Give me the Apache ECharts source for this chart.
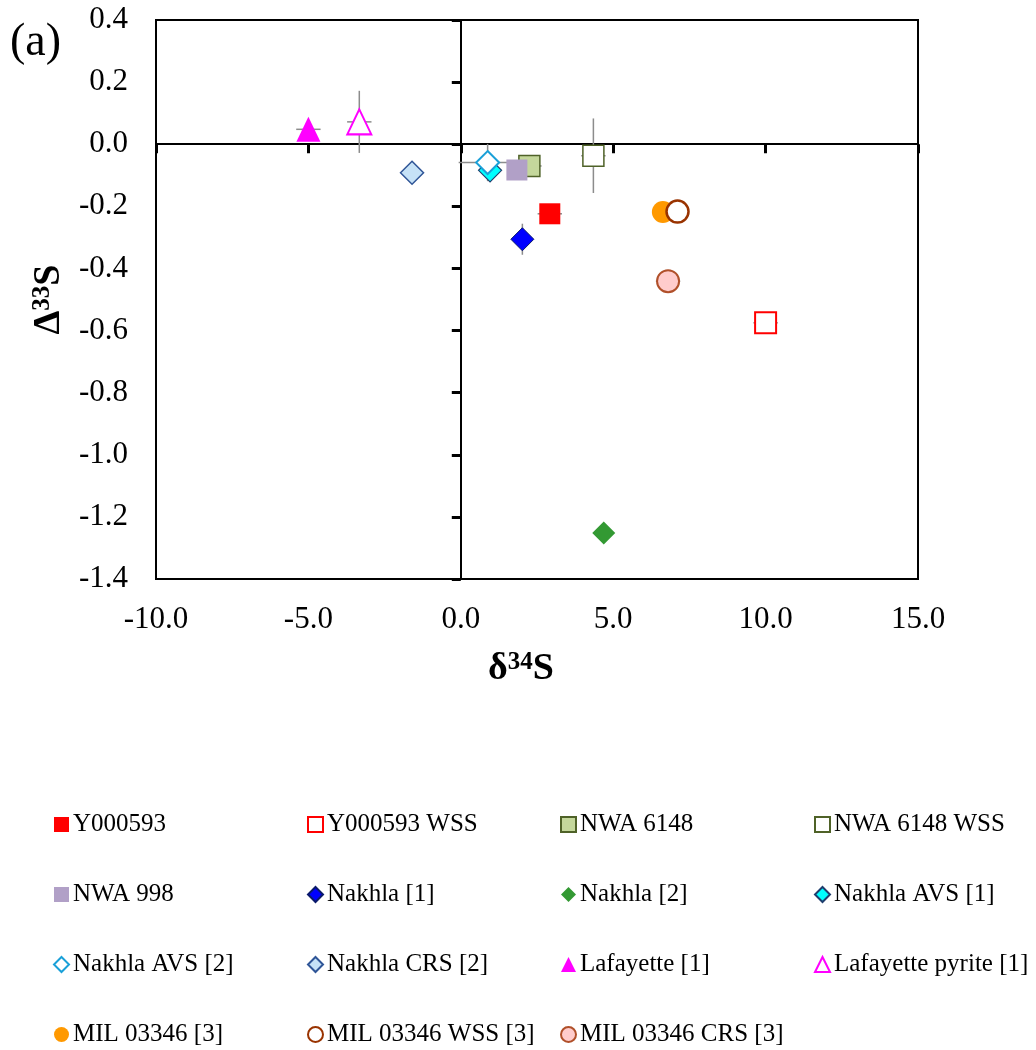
<!DOCTYPE html>
<html>
<head>
<meta charset="utf-8">
<script src="https://cdn.jsdelivr.net/npm/echarts@6/dist/echarts.min.js"></script>
<style>
html,body{margin:0;padding:0;background:#fff;}
#chart{width:1036px;height:1050px;}
</style>
</head>
<body>
<div id="chart"></div>
<script>
// ---- data ----
const seriesNames = ['Y000593','Y000593 WSS','NWA 6148','NWA 6148 WSS','NWA 998','Nakhla [1]','Nakhla [2]','Nakhla AVS [1]','Nakhla AVS [2]','Nakhla CRS [2]','Lafayette [1]','Lafayette pyrite [1]','MIL 03346 [3]','MIL 03346 WSS [3]','MIL 03346 CRS [3]'];
const d34S    = [2.92, 10.0, 2.25, 4.35, 1.84, 2.02, 4.69, 0.96, 0.88, -1.6, -5.0, -3.33, 6.63, 7.11, 6.80];
const D33S    = [-0.224, -0.575, -0.070, -0.037, -0.083, -0.306, -1.252, -0.084, -0.059, -0.092, 0.048, 0.072, -0.218, -0.217, -0.441];
const d34SErr = [0.4, 0.4, 0.4, 0.4, 0, 0, 0, 0, 0.95, 0, 0.4, 0.4, 0, 0, 0.4];
const D33SErr = [0, 0, 0, 0.12, 0, 0.05, 0, 0, 0.06, 0, 0, 0.1, 0, 0, 0];
const xTicks = {min: -10, max: 15, interval: 5};
const yTicks = {min: -1.4, max: 0.4, interval: 0.2};

// ---- styles (separate from data) ----
const styles = [
  {symbol:'rect', size:21, color:'#FF0000', border:'#FF0000', bw:0},
  {symbol:'rect', size:21, color:'#FFFFFF', border:'#FF0000', bw:2},
  {symbol:'rect', size:21, color:'#C4D79B', border:'#4F6228', bw:1.5},
  {symbol:'rect', size:21, color:'#FFFFFF', border:'#4F6228', bw:1.5},
  {symbol:'rect', size:21, color:'#B1A0C7', border:'#B1A0C7', bw:0},
  {symbol:'diamond', size:23, color:'#0000FF', border:'#0A1A6A', bw:1},
  {symbol:'diamond', size:23, color:'#339933', border:'#339933', bw:0},
  {symbol:'diamond', size:23, color:'#00FFFF', border:'#1F3D6D', bw:1.2},
  {symbol:'diamond', size:23, color:'#FFFFFF', border:'#1AA0D8', bw:2},
  {symbol:'diamond', size:23, color:'#C6E2F7', border:'#2F5597', bw:1.5},
  {symbol:'triangle', size:[24,25], color:'#FF00FF', border:'#FF00FF', bw:0},
  {symbol:'triangle', size:[24,25], color:'#FFFFFF', border:'#FF00FF', bw:2},
  {symbol:'circle', size:22, color:'#FF9900', border:'#FF9900', bw:0},
  {symbol:'circle', size:22, color:'#FFFFFF', border:'#993300', bw:2.5},
  {symbol:'circle', size:22, color:'#FFCCCC', border:'#B0502A', bw:2}
];

const FONT = 'Liberation Serif';
const chart = echarts.init(document.getElementById('chart'), null, {renderer:'canvas'});

const scatterSeries = seriesNames.map((n, i) => ({
  type: 'scatter',
  name: n,
  xAxisIndex: 0, yAxisIndex: 0,
  symbol: styles[i].symbol,
  symbolSize: styles[i].size,
  z: 3,
  itemStyle: {color: styles[i].color, borderColor: styles[i].border, borderWidth: styles[i].bw, opacity: 1},
  emphasis: {disabled: true},
  data: [[d34S[i], D33S[i]]]
}));

const errSeries = {
  type: 'custom',
  name: 'errors',
  xAxisIndex: 0, yAxisIndex: 0,
  z: 2,
  silent: true,
  data: d34S.map((x, i) => [x, D33S[i], d34SErr[i], D33SErr[i]]),
  renderItem: function (params, api) {
    const x = api.value(0), y = api.value(1), ex = api.value(2), ey = api.value(3);
    const children = [];
    const st = {stroke: '#8C8C8C', lineWidth: 1.5};
    if (ex > 0) {
      const a = api.coord([x - ex, y]), b = api.coord([x + ex, y]);
      children.push({type:'line', shape:{x1:a[0], y1:a[1], x2:b[0], y2:b[1]}, style: st});
    }
    if (ey > 0) {
      const a = api.coord([x, y - ey]), b = api.coord([x, y + ey]);
      children.push({type:'line', shape:{x1:a[0], y1:a[1], x2:b[0], y2:b[1]}, style: st});
    }
    return {type:'group', children: children};
  }
};

const cols = [[0,4,8,12],[1,5,9,13],[2,6,10,14],[3,7,11]];
const colLeft = [53, 307, 560, 814];
const legends = cols.map((c, k) => ({
  orient: 'vertical',
  left: colLeft[k],
  top: 812,
  padding: 0,
  itemWidth: 15,
  itemHeight: 15,
  itemGap: 45,
  selectedMode: false,
  textStyle: {fontFamily: FONT, fontSize: 25, color: '#000', padding: [0,0,0,-1]},
  data: c.map(i => seriesNames[i])
}));

const option = {
  animation: false,
  backgroundColor: '#fff',
  textStyle: {fontFamily: FONT},
  grid: {left: 156, top: 20, width: 762, height: 559, show: true, borderColor: '#000', borderWidth: 2, backgroundColor: 'transparent'},
  graphic: [{type:'text', left: 10, top: 20, style:{text:'(a)', font:'46px "Liberation Serif"', fill:'#000'}}],
  legend: legends,
  xAxis: [
    {
      type:'value', min: xTicks.min, max: xTicks.max, interval: xTicks.interval, position:'bottom',
      axisLine:{show:false, onZero:false}, axisTick:{show:false}, splitLine:{show:false},
      axisLabel:{fontFamily: FONT, fontSize: 31, color:'#000', margin: 25, formatter: v => v.toFixed(1)},
      name: '{a|δ}{b|34}{a|S}', nameLocation:'middle', nameGap: 71,
      nameTextStyle: {padding:[0,32,0,0], rich: {
        a:{fontFamily: FONT, fontSize: 38, fontWeight:'bold', color:'#000', verticalAlign:'bottom'},
        b:{fontFamily: FONT, fontSize: 25, fontWeight:'bold', color:'#000', verticalAlign:'top'}
      }}
    },
    {
      type:'value', min: xTicks.min, max: xTicks.max, interval: xTicks.interval, position:'bottom',
      axisLine:{show:true, onZero:true, onZeroAxisIndex:0, lineStyle:{color:'#000', width:2}},
      axisTick:{show:true, inside:false, length:9, lineStyle:{color:'#000', width:3}},
      axisLabel:{show:false}, splitLine:{show:false}
    }
  ],
  yAxis: [
    {
      type:'value', min: yTicks.min, max: yTicks.max, interval: yTicks.interval, position:'left',
      axisLine:{show:false, onZero:false}, axisTick:{show:false}, splitLine:{show:false},
      axisLabel:{fontFamily: FONT, fontSize: 31, color:'#000', margin: 28, formatter: v => v.toFixed(1)},
      name: '{a|Δ}{b|33}{a|S}', nameLocation:'middle', nameGap: 88, nameRotate: 90,
      nameTextStyle: {rich: {
        a:{fontFamily: FONT, fontSize: 38, fontWeight:'bold', color:'#000', verticalAlign:'bottom'},
        b:{fontFamily: FONT, fontSize: 25, fontWeight:'bold', color:'#000', verticalAlign:'top'}
      }}
    },
    {
      type:'value', min: yTicks.min, max: yTicks.max, interval: yTicks.interval, position:'left',
      axisLine:{show:true, onZero:true, onZeroAxisIndex:0, lineStyle:{color:'#000', width:2}},
      axisTick:{show:true, inside:false, length:9, lineStyle:{color:'#000', width:3}},
      axisLabel:{show:false}, splitLine:{show:false}
    }
  ],
  series: [errSeries].concat(scatterSeries)
};
chart.setOption(option);
</script>
</body>
</html>
